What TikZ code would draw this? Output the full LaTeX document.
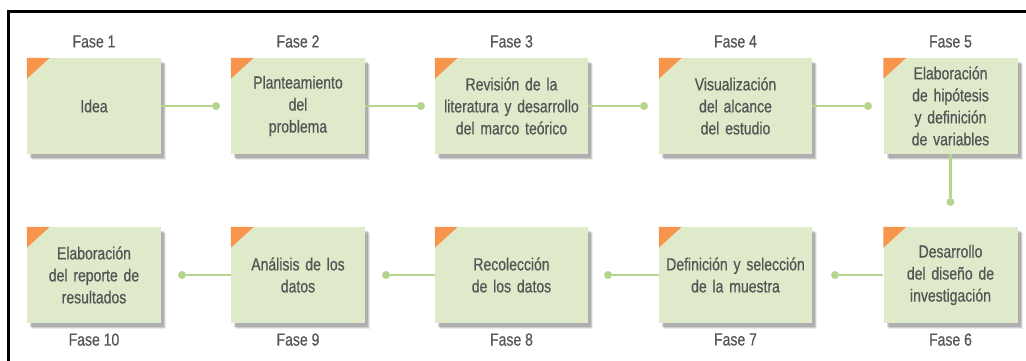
\documentclass[tikz,border=0pt]{standalone}
\usepackage{fontspec}
\setmainfont{Liberation Sans}[FakeStretch=0.8, FakeBold=0.6]
\usetikzlibrary{positioning,shadows}
\definecolor{fasebg}{HTML}{DFEACB}
\definecolor{faseor}{HTML}{F7954C}
\definecolor{faseln}{HTML}{B3D68C}
\definecolor{fasetx}{HTML}{555555}
\tikzset{
  fase/.style={fill=fasebg, text=fasetx, minimum height=96pt, minimum width=134pt,
    text width=132pt, align=center, inner sep=0pt,
    font=\fontsize{17.5}{22}\selectfont,
    drop shadow={shadow xshift=5pt, shadow yshift=-6pt, fill=black, opacity=0.08},
    drop shadow={shadow xshift=4pt, shadow yshift=-5pt, fill=black, opacity=0.12},
    drop shadow={shadow xshift=3pt, shadow yshift=-4pt, fill=black, opacity=0.15}},
  wide/.style={minimum width=153pt, text width=152pt},
  tag/.style={text=fasetx, font=\fontsize{17.5}{20}\selectfont, inner sep=0pt},
  conn/.style={draw=faseln, line width=2.5pt},
  dot/.style={circle, fill=faseln, minimum size=8pt, inner sep=0pt},
}
\begin{document}
\begin{tikzpicture}[x=1pt, y=-1pt]
    \useasboundingbox (0,0) rectangle (1026,361);
    \draw[line width=3pt] (8.5,361) -- (8.5,11.5) -- (1026,11.5);

    % first row
    \node[fase] (f1) at (94,106) {Idea};
    \node[fase] (f2) at (298,106) {Planteamiento\\del\\problema};
    \node[fase, wide] (f3) at (511.5,106) {Revisión de la\\literatura y desarrollo\\del marco teórico};
    \node[fase, wide] (f4) at (735.5,106) {Visualización\\del alcance\\del estudio};
    \node[fase] (f5) at (950.5,106) {Elaboración\\de hipótesis\\y definición\\de variables};

    % second row
    \node[fase] (f6) at (950.5,275) {Desarrollo\\del diseño de\\investigación};
    \node[fase, wide] (f7) at (735.5,275) {Definición y selección\\de la muestra};
    \node[fase, wide] (f8) at (511.5,275) {Recolección\\de los datos};
    \node[fase] (f9) at (298,275) {Análisis de los\\datos};
    \node[fase] (f10) at (94,275) {Elaboración\\del reporte de\\resultados};

    \foreach \n in {f1,f2,f3,f4,f5,f6,f7,f8,f9,f10}
        \fill[faseor] (\n.north west) -- ++(23pt,0pt) -- ++(-23pt,-21pt) -- cycle;

    \foreach \i in {1,...,5}
        \node[tag, above=10pt of f\i] (t\i) {Fase \i};
    \foreach \i in {6,...,10}
        \node[tag, below=10pt of f\i] (t\i) {Fase \i};

    % dots
    \node[dot] (d1) at (216,106) {};
    \node[dot] (d2) at (421,106) {};
    \node[dot] (d3) at (644,106) {};
    \node[dot] (d4) at (868,106) {};
    \node[dot] (d5) at (950.5,202) {};
    \node[dot] (d6) at (835,275) {};
    \node[dot] (d7) at (608,275) {};
    \node[dot] (d8) at (386,275) {};
    \node[dot] (d9) at (182,275) {};

    \draw[conn] (f1.east) -- (d1);
    \draw[conn] (f2.east) -- (d2);
    \draw[conn] (f3.east) -- (d3);
    \draw[conn] (f4.east) -- (d4);
    \draw[conn] (f5.south) -- (d5);
    \draw[conn] (d6) -- (f6.west);
    \draw[conn] (d7) -- (f7.west);
    \draw[conn] (d8) -- (f8.west);
    \draw[conn] (d9) -- (f9.west);
\end{tikzpicture}
\end{document}
